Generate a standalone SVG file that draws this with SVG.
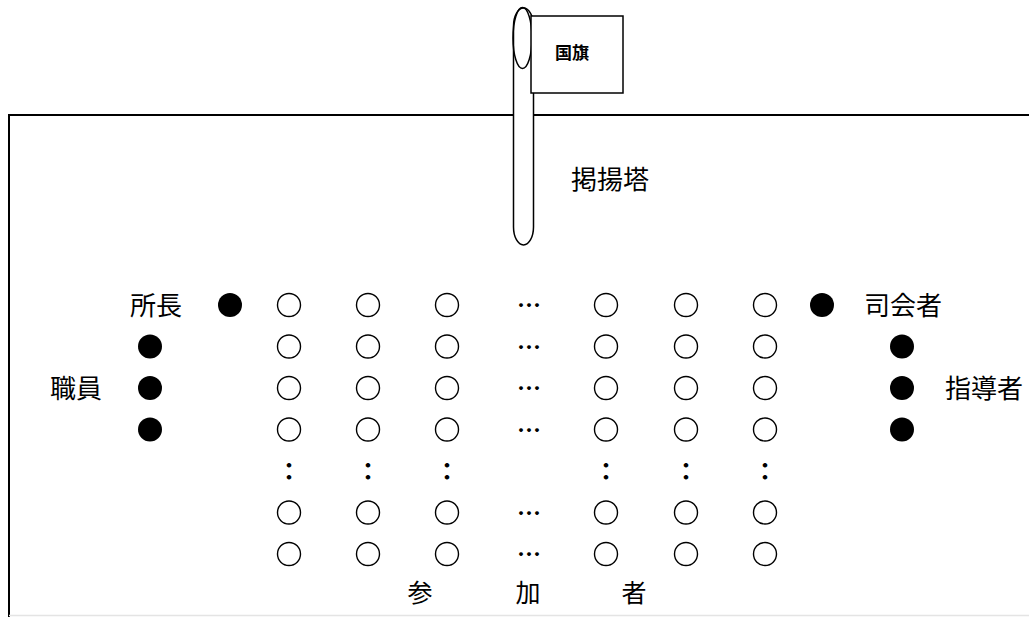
<svg xmlns="http://www.w3.org/2000/svg" width="1029" height="617" viewBox="0 0 1029 617">
<style>
.t{font-family:"Noto Sans CJK JP","Noto Sans CJK SC",sans-serif;font-size:26px;fill:#000;text-anchor:middle}
.d{font-family:"Noto Sans CJK JP","Noto Sans CJK SC",sans-serif;font-size:24px;font-weight:700;fill:#000;text-anchor:middle}
.o{fill:#fff;stroke:#000;stroke-width:1.4}
.b{fill:#000}
.ln{fill:none;stroke:#000;stroke-width:2}
</style>
<defs>
<circle id="oc" r="11.5" class="o"/>
<circle id="bc" r="12" class="b"/>
</defs>
<rect width="1029" height="617" fill="#fff"/>
<g id="frame">
<path class="ln" d="M9,617 V115 H1029"/>
<line x1="9" y1="615.5" x2="1029" y2="615.5" stroke="#e4e4e4" stroke-width="1.5"/>
</g>
<g id="flagpole">
<rect x="513.5" y="8" width="20" height="237" rx="10" ry="18" fill="#fff" stroke="#000" stroke-width="1.5"/>
<ellipse cx="522.5" cy="38" rx="9.5" ry="30.5" fill="none" stroke="#000" stroke-width="1.5"/>
<text class="t" x="610" y="189">掲揚塔</text>
</g>
<g id="flag">
<rect x="531" y="16" width="92" height="77" fill="#fff" stroke="#000" stroke-width="1.5"/>
<text class="t" x="572" y="58.5" style="font-size:17px;font-weight:700">国旗</text>
</g>
<g id="director">
<text class="t" x="156" y="315">所長</text>
<use href="#bc" x="230" y="305"/>
</g>
<g id="staff">
<use href="#bc" x="150" y="346.5"/>
<use href="#bc" x="150" y="388"/>
<use href="#bc" x="150" y="429.5"/>
<text class="t" x="76" y="398">職員</text>
</g>
<g id="host">
<use href="#bc" x="822" y="305"/>
<text class="t" x="903" y="315">司会者</text>
</g>
<g id="leaders">
<use href="#bc" x="902" y="346.5"/>
<use href="#bc" x="902" y="388"/>
<use href="#bc" x="902" y="429.5"/>
<text class="t" x="984" y="398">指導者</text>
</g>
<g id="participants">
<g id="col1"><use href="#oc" x="289" y="305"/><use href="#oc" x="289" y="346.5"/><use href="#oc" x="289" y="388"/><use href="#oc" x="289" y="429.5"/><text class="d" x="289" y="480">：</text><use href="#oc" x="289" y="512.5"/><use href="#oc" x="289" y="554"/></g>
<g id="col2"><use href="#oc" x="368" y="305"/><use href="#oc" x="368" y="346.5"/><use href="#oc" x="368" y="388"/><use href="#oc" x="368" y="429.5"/><text class="d" x="368" y="480">：</text><use href="#oc" x="368" y="512.5"/><use href="#oc" x="368" y="554"/></g>
<g id="col3"><use href="#oc" x="447" y="305"/><use href="#oc" x="447" y="346.5"/><use href="#oc" x="447" y="388"/><use href="#oc" x="447" y="429.5"/><text class="d" x="447" y="480">：</text><use href="#oc" x="447" y="512.5"/><use href="#oc" x="447" y="554"/></g>
<g id="col4"><text class="d" x="529" y="314">…</text><text class="d" x="529" y="355.5">…</text><text class="d" x="529" y="397">…</text><text class="d" x="529" y="438.5">…</text><text class="d" x="529" y="521.5">…</text><text class="d" x="529" y="563">…</text></g>
<g id="col5"><use href="#oc" x="606" y="305"/><use href="#oc" x="606" y="346.5"/><use href="#oc" x="606" y="388"/><use href="#oc" x="606" y="429.5"/><text class="d" x="606" y="480">：</text><use href="#oc" x="606" y="512.5"/><use href="#oc" x="606" y="554"/></g>
<g id="col6"><use href="#oc" x="686" y="305"/><use href="#oc" x="686" y="346.5"/><use href="#oc" x="686" y="388"/><use href="#oc" x="686" y="429.5"/><text class="d" x="686" y="480">：</text><use href="#oc" x="686" y="512.5"/><use href="#oc" x="686" y="554"/></g>
<g id="col7"><use href="#oc" x="765" y="305"/><use href="#oc" x="765" y="346.5"/><use href="#oc" x="765" y="388"/><use href="#oc" x="765" y="429.5"/><text class="d" x="765" y="480">：</text><use href="#oc" x="765" y="512.5"/><use href="#oc" x="765" y="554"/></g>
<text class="t" x="420" y="602" style="font-size:25px">参</text>
<text class="t" x="528" y="602" style="font-size:25px">加</text>
<text class="t" x="634" y="602" style="font-size:25px">者</text>
</g>
</svg>
